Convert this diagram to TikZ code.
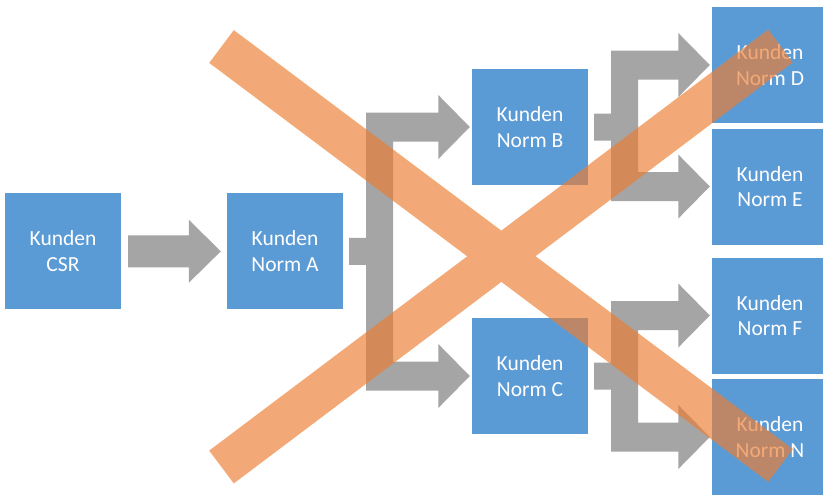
\documentclass[tikz,border=0pt]{standalone}
\usepackage{fontspec}
\setmainfont{Carlito}
\usetikzlibrary{calc}
\definecolor{boxblue}{HTML}{5B9BD5}
\definecolor{arrowgrey}{HTML}{A5A5A5}
\definecolor{crossorange}{HTML}{ED7D31}
\tikzset{
  kbox/.style={fill=boxblue, minimum width=116pt, minimum height=116pt, inner sep=0pt,
    text=white, align=center, font=\fontsize{21.5}{25.5}\selectfont,
    execute at begin node=\vspace*{2pt}},
  arrowfill/.style={fill=arrowgrey},
  crossband/.style={fill=crossorange, fill opacity=0.66}
}
\newcommand\brancharrow[3]{%
  \fill[arrowfill] let \p1=(#1.east), \p2=(#2.west), \p3=(#3.west) in
    (\x1+6pt,\y1+13.5pt) -- (\x1+23pt,\y1+13.5pt) -- (\x1+23pt,\y2+14.5pt)
    -- (\x2-33.5pt,\y2+14.5pt) -- (\x2-33.5pt,\y2+32pt) -- (\x2-2pt,\y2)
    -- (\x2-33.5pt,\y2-32pt) -- (\x2-33.5pt,\y2-14.5pt) -- (\x1+50pt,\y2-14.5pt)
    -- (\x1+50pt,\y3+14.5pt) -- (\x3-33.5pt,\y3+14.5pt) -- (\x3-33.5pt,\y3+32pt)
    -- (\x3-2pt,\y3) -- (\x3-33.5pt,\y3-32pt) -- (\x3-33.5pt,\y3-14.5pt)
    -- (\x1+23pt,\y3-14.5pt) -- (\x1+23pt,\y1-13.5pt) -- (\x1+6pt,\y1-13.5pt) -- cycle;}
\begin{document}
\begin{tikzpicture}[x=1pt,y=-1pt]
\clip (0,0) rectangle (823,496);
\fill[white] (0,0) rectangle (823,496);
% boxes
\node[kbox] (csr) at (63,251.3) {Kunden\\CSR};
\node[kbox] (a) at (285,251.3) {Kunden\\Norm A};
\node[kbox] (b) at (530,127) {Kunden\\Norm B};
\node[kbox] (c) at (530,376) {Kunden\\Norm C};
\node[kbox] (d) at (770,65) {Kunden\\Norm D};
\node[kbox] (e) at (770,186.5) {Kunden\\Norm E};
\node[kbox] (f) at (770,315.5) {Kunden\\Norm F};
\node[kbox] (n) at (770,437) {Kunden\\Norm N};
% straight arrow
\fill[arrowfill] let \p1=(csr.east), \p2=(a.west) in
  (\x1+7pt,\y1+16pt) -- (\x2-38pt,\y1+16pt) -- (\x2-38pt,\y1+31.5pt)
  -- (\x2-6pt,\y1) -- (\x2-38pt,\y1-31.5pt) -- (\x2-38pt,\y1-16pt)
  -- (\x1+7pt,\y1-16pt) -- cycle;
% branching arrows
\brancharrow{a}{b}{c}
\brancharrow{b}{d}{e}
\brancharrow{c}{f}{n}
% the cross (one path, filled once where the bands overlap)
\fill[crossband]
  (209.2,62.9) -- (233.8,30.1) -- (792.8,449.1) -- (768.2,481.9) -- cycle
  (209.2,450.6) -- (768.2,29.6) -- (792.8,62.4) -- (233.8,483.4) -- cycle;
\end{tikzpicture}
\end{document}
